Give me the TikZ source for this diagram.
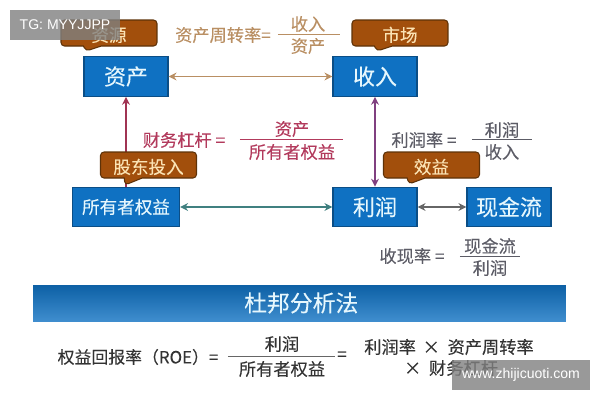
\documentclass[tikz,border=0pt]{standalone}
\usepackage{fontspec}
\setmainfont[FakeBold=0.15]{Noto Sans CJK SC}
\newfontfamily\latinfont{Liberation Sans}
\usetikzlibrary{shapes.callouts,arrows.meta}
\definecolor{boxblue}{HTML}{0F71C2}
\definecolor{boxedge}{HTML}{0B4E86}
\definecolor{tagbrown}{HTML}{A24F0C}
\definecolor{tagedge}{HTML}{5E3208}
\definecolor{tagtext}{HTML}{FBE3B4}
\definecolor{tantext}{HTML}{B98F63}
\definecolor{redtext}{HTML}{B23A5C}
\definecolor{greytext}{HTML}{5C5C66}
\tikzset{
  bluebox/.style={draw=boxedge,line width=0.7pt,fill=boxblue,text=white!90!cyan,minimum height=0.79cm,inner sep=0pt},
  tagbox/.style={rectangle callout,rounded corners=2pt,draw=tagedge,line width=0.6pt,fill=tagbrown,text=tagtext,minimum width=1.92cm,minimum height=0.52cm,inner sep=0pt,text height=11pt,text depth=1.2pt,callout pointer width=0.36cm,font=\fontsize{10}{10}\selectfont},
  formula/.style={inner sep=0pt,font=\fontsize{9.8}{10}\selectfont},
  link/.style={{Stealth[length=4.5pt,width=4.5pt]}-{Stealth[length=4.5pt,width=4.5pt]},line width=1pt},
  stamp/.style={fill=gray,fill opacity=0.8,text opacity=1,text=white,inner sep=0pt,minimum height=0.6cm},
}
\begin{document}
\begin{tikzpicture}[x=0.02cm,y=-0.02cm]
  \useasboundingbox (0,0) rectangle (600,400);

  \node [bluebox,minimum width=1.68cm,font=\fontsize{12.5}{13}\selectfont] (asset) at (126,76.5) {资产};
  \node [bluebox,minimum width=1.68cm,font=\fontsize{12.5}{13}\selectfont] (income) at (375,76.5) {收入};
  \node [bluebox,minimum width=2.14cm,font=\fontsize{10}{11}\selectfont] (owner) at (126,207) {所有者权益};
  \node [bluebox,minimum width=1.68cm,font=\fontsize{12.5}{13}\selectfont] (profit) at (375,207) {利润};
  \node [bluebox,minimum width=1.68cm,font=\fontsize{12.5}{13}\selectfont] (cash) at (509,207) {现金流};

  \draw [link,color=tantext] (asset) -- (income);
  \draw [link,color=teal!50!gray] (owner) -- (profit);
  \draw [link,color=violet!50!gray] (income) -- (profit);
  \draw [link,color=gray!80!black] (profit) -- (cash);
  \draw [-{Stealth[length=4.5pt,width=4.5pt]},line width=1pt,color=redtext!90!black] (owner) -- (asset);

  \node [tagbox,callout absolute pointer={(86,51)}] (source) at (109,33) {资源};
  \node [tagbox,callout absolute pointer={(377,51)}] (market) at (400,33) {市场};
  \node [tagbox,callout absolute pointer={(125,185)}] (invest) at (148.5,165) {股东投入};
  \node [tagbox,callout absolute pointer={(409,184)}] (benefit) at (431.5,165) {效益};

  \node [formula,color=tantext] (turnname) at (223,35) {资产周转率=};
  \draw [color=tantext] (278,34) -- (340,34);
  \node [formula,color=tantext] (turntop) at (308,24) {收入};
  \node [formula,color=tantext] (turnbot) at (308,46) {资产};

  \node [formula,color=redtext] (levername) at (184,140) {财务杠杆 =};
  \draw [color=redtext] (240,139) -- (343,139);
  \node [formula,color=redtext] (levertop) at (292,129) {资产};
  \node [formula,color=redtext] (leverbot) at (292,152) {所有者权益};

  \node [formula,color=greytext] (marginname) at (424,140) {利润率 =};
  \draw [color=greytext] (472,139) -- (532,139);
  \node [formula,color=greytext] (margintop) at (502,130) {利润};
  \node [formula,color=greytext] (marginbot) at (502,152) {收入};

  \node [formula,color=greytext] (cashname) at (412,256) {收现率 =};
  \draw [color=greytext] (460,256) -- (520,256);
  \node [formula,color=greytext] (cashtop) at (490,246) {现金流};
  \node [formula,color=greytext] (cashbot) at (490,268) {利润};

  \node [minimum width=10.66cm,minimum height=0.72cm,inner sep=0pt,top color=boxblue!85!black,bottom color=boxblue!80!white,text=white!90!cyan,font=\fontsize{13}{14}\selectfont] (banner) at (299.5,303) {\kern2pt 杜邦分析法};

  \node [formula,font=\fontsize{9.6}{10}\selectfont,color=black!80] (roename) at (138,357) {权益回报率（ROE）=};
  \draw [color=black!60] (228,356) -- (335,356);
  \node [formula,color=black!80] (roetop) at (282,344) {利润};
  \node [formula,color=black!80] (roebot) at (282,369) {所有者权益};
  \node [formula,color=black!80] (roeeq) at (342,356) {=};
  \node [formula,color=black!80] (roefirst) at (449,347) {利润率\ \,×\ \ 资产周转率};
  \node [formula,color=black!80] (roesecond) at (451,368) {×\ \ 财务杠杆};

  \node [stamp,minimum width=2.2cm,font=\latinfont\fontsize{8}{8}\selectfont] (stamptg) at (65,25) {TG: MYYJJPP};
  \node [stamp,minimum width=2.76cm,font=\latinfont\fontsize{8}{8}\selectfont] (stampweb) at (521,375) {www.zhijicuoti.com};
\end{tikzpicture}
\end{document}
